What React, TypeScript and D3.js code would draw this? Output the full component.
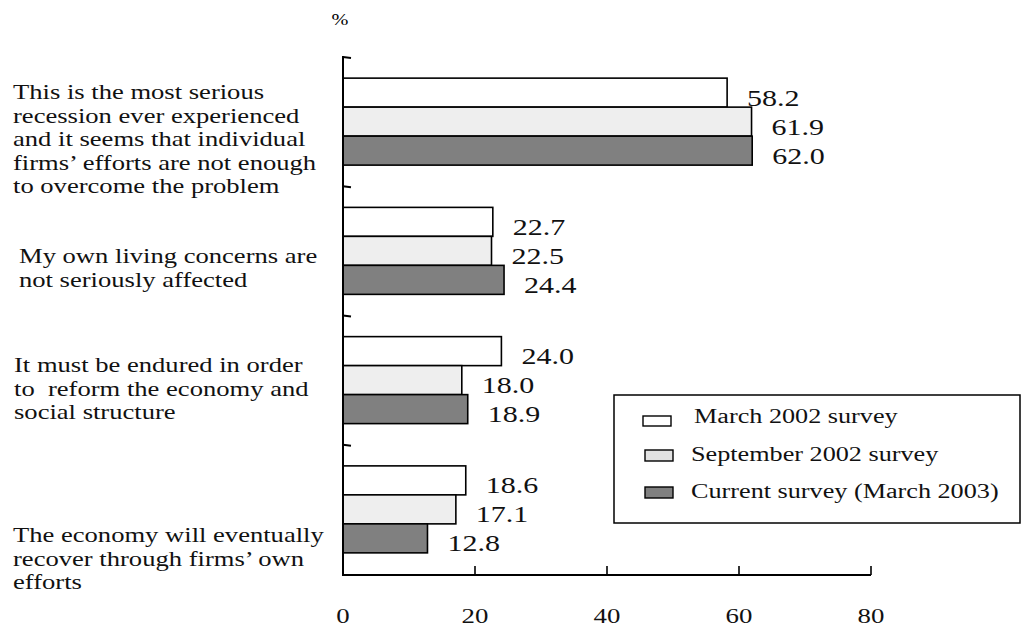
import React from "react";
import * as d3 from "d3";

const categories = [
  "This is the most serious recession ever experienced and it seems that individual firms’ efforts are not enough to overcome the problem",
  "My own living concerns are not seriously affected",
  "It must be endured in order to reform the economy and social structure",
  "The economy will eventually recover through firms’ own efforts",
];
const categoryLines = [
  ["This is the most serious", "recession ever experienced", "and it seems that individual", "firms’ efforts are not enough", "to overcome the problem"],
  ["My own living concerns are", "not seriously affected"],
  ["It must be endured in order", "to  reform the economy and", "social structure"],
  ["The economy will eventually", "recover through firms’ own", "efforts"],
];
const seriesNames = ["March 2002 survey", "September 2002 survey", "Current survey (March 2003)"];
const march2002 = [58.2, 22.7, 24.0, 18.6];
const september2002 = [61.9, 22.5, 18.0, 17.1];
const march2003 = [62.0, 24.4, 18.9, 12.8];
const xTicks = [0, 20, 40, 60, 80];

// layout
const W = 1028;
const H = 631;
const FONT = "'Liberation Serif', 'Times New Roman', serif";
const SX = 1.27;
const fills = ["#ffffff", "#eeeeee", "#808080"];
const labelFirstBaseline = [99, 263, 372, 542];
const labelX = [13, 19, 14, 13];

export default function App() {
  const series = [march2002, september2002, march2003];
  const x = d3.scaleLinear().domain([0, 80]).range([343, 871]);
  const y = d3.scaleBand<string>().domain(categories).range([57, 574]).paddingInner(0.327).paddingOuter(0.1635);
  const inner = d3.scaleBand<number>().domain([0, 1, 2]).range([0, y.bandwidth()]).padding(0);
  const step = y.step();
  const axisY = 575;

  return (
    <svg width={W} height={H} style={{ position: "absolute", left: 0, top: 0, background: "#fff" }} fontFamily={FONT}>
      <rect x={0} y={0} width={W} height={H} fill="#fff" />
      {/* percent label */}
      <text transform={`translate(340,25) scale(${SX},1)`} textAnchor="middle" fontSize={16}>%</text>

      {/* category labels */}
      {categoryLines.map((lines, i) => (
        <g key={i}>
          {lines.map((ln, j) => (
            <text key={j} transform={`translate(${labelX[i]},${labelFirstBaseline[i] + j * 23.6}) scale(1.33,1)`} fontSize={20} fill="#111" style={{ whiteSpace: "pre" }}>
              {ln}
            </text>
          ))}
        </g>
      ))}

      {/* bars */}
      {categories.map((c, i) => (
        <g key={c}>
          {series.map((s, k) => {
            const by = (y(c) as number) + (inner(k) as number);
            const bh = inner.bandwidth();
            return (
              <g key={k}>
                <rect x={x(0)} y={by} width={x(s[i]) - x(0)} height={bh} fill={fills[k]} stroke="#000" strokeWidth={1.6} />
                <text transform={`translate(${x(s[i]) + 20},${by + bh - 1.5}) scale(1.25,1)`} fontSize={24} fill="#111">
                  {s[i].toFixed(1)}
                </text>
              </g>
            );
          })}
        </g>
      ))}

      {/* y axis */}
      <line x1={x(0)} x2={x(0)} y1={56} y2={axisY + 1} stroke="#000" strokeWidth={2} />
      {categories.map((c, i) => (
        <path key={i} d={`M${x(0)},${57 + i * step} L${x(0) + 8},${57 + i * step + 1}`} stroke="#000" strokeWidth={1.8} fill="none" />
      ))}

      {/* x axis */}
      <line x1={x(0)} x2={x(80)} y1={axisY} y2={axisY} stroke="#000" strokeWidth={2} />
      {xTicks.map((t) => (
        <g key={t}>
          {t > 0 && <line x1={x(t)} x2={x(t)} y1={axisY} y2={axisY - 9} stroke="#000" strokeWidth={1.6} />}
          <text transform={`translate(${x(t)},623) scale(1.22,1)`} textAnchor="middle" fontSize={22} fill="#111">
            {t}
          </text>
        </g>
      ))}

      {/* legend */}
      <rect x={614} y={395} width={406} height={128} fill="#fff" stroke="#000" strokeWidth={1.5} />
      {seriesNames.map((n, k) => (
        <g key={n}>
          <rect x={643 + (k > 0 ? 2 : 0)} y={[416, 450, 487][k]} width={28} height={k === 0 ? 10 : 11} fill={k === 1 ? "#e2e2e2" : fills[k]} stroke="#000" strokeWidth={1.4} />
          <text transform={`translate(${k === 0 ? 694 : 691},${[423, 461, 498][k]}) scale(1.31,1)`} fontSize={20} fill="#111">
            {n}
          </text>
        </g>
      ))}
    </svg>
  );
}
